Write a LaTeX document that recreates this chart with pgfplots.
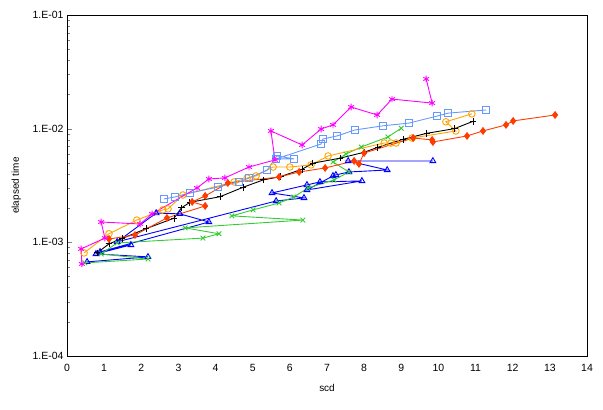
\documentclass[border=0pt]{standalone}
\usepackage{pgfplots}
\pgfplotsset{compat=1.18}
\usepackage{fontspec}
\setmainfont{Liberation Sans}
\definecolor{cmag}{RGB}{255,0,255}
\definecolor{csq}{RGB}{102,153,255}
\definecolor{corg}{RGB}{255,165,0}
\definecolor{cred}{RGB}{255,60,0}
\definecolor{cblu}{RGB}{0,0,255}
\definecolor{cgrn}{RGB}{51,204,51}
\begin{document}
\begin{tikzpicture}[x=1bp,y=1bp]
\path (0,0) rectangle (603,409);
\begin{axis}[
  at={(67bp,53bp)}, anchor=south west,
  scale only axis, width=520bp, height=341bp,
  xmin=0, xmax=14, ymin=1e-4, ymax=1e-1,
  ymode=log,
  xtick={0,1,...,14},
  ytick={1e-4,1e-3,1e-2,1e-1},
  yticklabels={1.E-04,1.E-03,1.E-02,1.E-01},
  minor ytick={2e-4,3e-4,4e-4,5e-4,6e-4,7e-4,8e-4,9e-4,2e-3,3e-3,4e-3,5e-3,6e-3,7e-3,8e-3,9e-3,2e-2,3e-2,4e-2,5e-2,6e-2,7e-2,8e-2,9e-2},
  tick align=inside, ytick pos=left, xtick pos=bottom,
  major x tick style={draw=none},
  major tick length=5bp, minor tick length=3bp,
  tick label style={font=\fontsize{10.5}{12}\selectfont},
  /pgf/number format/assume math mode=true,
  xticklabel style={yshift=-5bp},
  label style={font=\fontsize{10}{12}\selectfont},
  xlabel={scd}, ylabel={elapsed time},
  xlabel style={yshift=-6bp},
  ylabel style={yshift=5bp},
  axis line style={line width=1pt},
  every axis plot/.append style={line width=0.9pt, mark size=3.3bp},
  clip=false,
]
% blue triangles
\addplot[cblu, mark=triangle, mark options={solid}] coordinates {
(0.54,6.73e-4) (2.18,7.45e-4) (0.78,7.91e-4) (1.72,9.49e-4) (0.89,8.24e-4)
(3.82,1.51e-3) (3.04,1.78e-3) (2.40,1.81e-3) (1.35,1.01e-3) (5.63,2.31e-3)
(6.38,2.46e-3) (5.52,2.72e-3) (6.46,3.20e-3) (6.81,3.40e-3) (7.94,3.47e-3)
(6.46,2.89e-3) (7.16,3.84e-3) (7.24,3.92e-3) (7.59,4.16e-3) (8.62,4.33e-3)
(7.57,5.20e-3) (9.85,5.20e-3)
};
% green x
\addplot[cgrn, mark=x, mark options={solid}] coordinates {
(0.48,6.59e-4) (2.18,7.14e-4) (0.92,7.91e-4) (1.35,9.88e-4) (3.66,1.09e-3)
(4.09,1.19e-3) (3.18,1.34e-3) (6.35,1.57e-3) (4.44,1.71e-3) (5.01,1.93e-3)
(5.71,2.22e-3) (6.11,2.51e-3) (6.49,3.01e-3) (7.19,3.54e-3) (7.59,4.16e-3)
(7.16,5.09e-3) (7.51,5.98e-3) (7.92,6.90e-3) (8.64,8.45e-3) (9.00,1.01e-2)
};
% orange circles
\addplot[corg, mark=o, mark options={solid}] coordinates {
(0.46,8.07e-4) (1.13,1.19e-3) (1.88,1.57e-3) (2.58,1.93e-3) (2.72,1.97e-3)
(3.12,2.61e-3) (4.50,3.40e-3) (4.85,3.68e-3) (5.09,3.84e-3) (5.55,4.60e-3)
(6.00,4.60e-3) (6.57,4.80e-3) (7.03,5.75e-3) (8.54,7.48e-3) (8.72,7.48e-3)
(8.86,7.48e-3) (9.29,8.28e-3) (10.47,9.54e-3) (10.20,1.15e-2) (10.90,1.35e-2)
};
% black plus
\addplot[black, mark=+, mark options={solid}] coordinates {
(0.81,8.07e-4) (1.13,9.69e-4) (1.48,1.08e-3) (2.13,1.32e-3) (2.88,1.63e-3)
(3.08,2.01e-3) (3.31,2.25e-3) (4.12,2.52e-3) (4.74,3.05e-3) (5.28,3.54e-3)
(5.74,3.78e-3) (6.33,4.40e-3) (6.62,4.97e-3) (7.35,5.50e-3) (8.00,6.20e-3)
(8.37,6.86e-3) (9.05,8.07e-3) (9.69,9.11e-3) (10.43,1.00e-2) (10.93,1.16e-2)
};
% red diamonds
\addplot[cred, mark=diamond*, mark options={solid}] coordinates {
(1.13,1.07e-3) (1.83,1.16e-3) (2.69,1.64e-3) (3.72,2.09e-3) (3.37,2.27e-3)
(3.72,2.56e-3) (4.33,3.33e-3) (5.71,3.76e-3) (6.25,4.16e-3) (6.95,4.51e-3)
(7.73,5.20e-3) (7.86,4.90e-3) (8.00,6.11e-3) (9.32,8.28e-3) (9.83,7.96e-3)
(9.85,7.64e-3) (10.77,8.63e-3) (11.20,9.55e-3) (11.82,1.08e-2) (12.01,1.17e-2)
(13.14,1.32e-2)
};
% blue squares
\addplot[csq, mark=square, mark options={solid}] coordinates {
(2.61,2.41e-3) (2.91,2.51e-3) (3.31,2.72e-3) (4.07,3.07e-3) (4.63,3.40e-3)
(4.90,3.68e-3) (5.39,4.33e-3) (5.65,5.76e-3) (6.11,5.42e-3) (5.63,5.42e-3)
(6.84,7.33e-3) (6.89,8.11e-3) (7.27,8.63e-3) (7.75,9.74e-3) (8.51,1.06e-2)
(9.21,1.12e-2) (9.96,1.29e-2) (10.26,1.37e-2) (11.28,1.46e-2)
};
% magenta asterisks
\addplot[cmag, mark=asterisk, mark options={solid}] coordinates {
(0.40,6.46e-4) (0.38,8.75e-4) (1.02,1.09e-3) (0.92,1.51e-3) (1.97,1.45e-3)
(2.29,1.78e-3) (3.50,3.01e-3) (3.82,3.61e-3) (4.25,3.69e-3) (4.90,4.60e-3)
(5.60,5.31e-3) (5.49,9.55e-3) (6.33,7.19e-3) (6.84,9.93e-3) (7.16,1.08e-2)
(7.65,1.55e-2) (8.35,1.32e-2) (8.75,1.82e-2) (9.83,1.68e-2) (9.67,2.74e-2)
};
\end{axis}
\end{tikzpicture}
\end{document}
